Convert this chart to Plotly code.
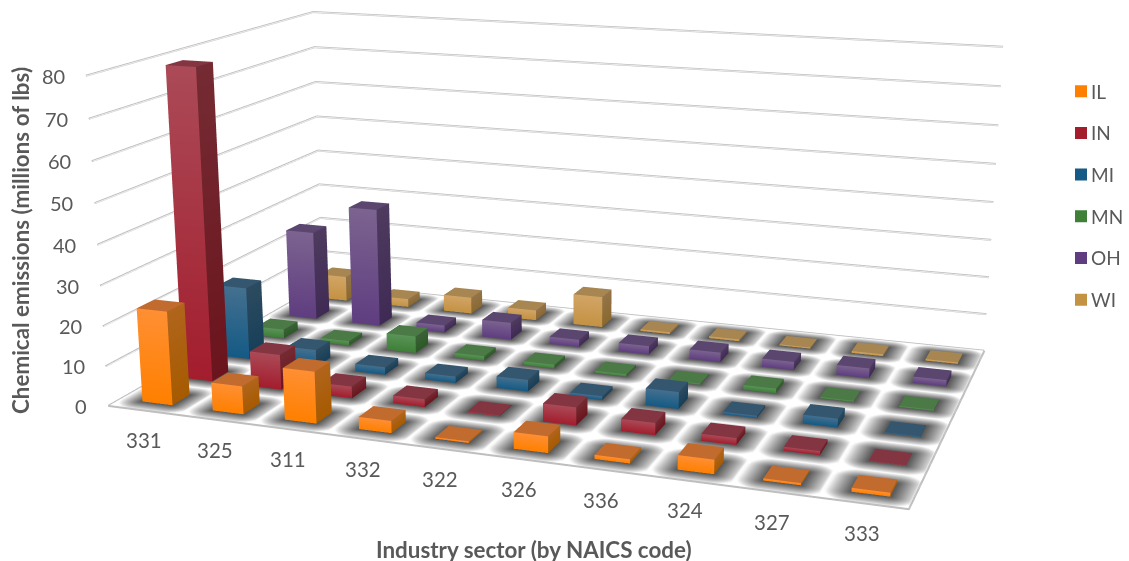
import math
import numpy as np
import plotly.graph_objects as go

# Chemical emissions by industry sector and state (millions of lbs)
sectors = ["331", "325", "311", "332", "322", "326", "336", "324", "327", "333"]
states = ["IL", "IN", "MI", "MN", "OH", "WI"]
IL = [23.5, 7, 12.8, 3, 0.4, 4, 1, 3.4, 0.5, 0.9]
IN = [79, 9, 3, 2, 0.2, 4.5, 3, 1.7, 1, 0.1]
MI = [19, 4.5, 2, 1.7, 3, 1, 4.3, 0.6, 2.2, 0.2]
MN = [2.4, 1.2, 4.5, 1.2, 1, 0.6, 0.3, 1.2, 0.3, 0.3]
OH = [24.5, 32.5, 2, 4.7, 2, 2.3, 2.6, 2.2, 2.6, 1.7]
WI = [7, 2.3, 4.6, 2.8, 8.5, 0.5, 0.5, 0.3, 0.5, 0.4]
z_ticks = [0, 10, 20, 30, 40, 50, 60, 70, 80]

# state: (front top, front bottom, side top, side bottom, top face)
palette = {
    "IL": ("#FF8F33", "#FF8000", "#B0651C", "#A65A00", "#C26B2E"),
    "IN": ("#AB4A57", "#A31D2D", "#752B33", "#6B141D", "#843542"),
    "MI": ("#44708F", "#145A85", "#2D4B60", "#153F58", "#35566F"),
    "MN": ("#5A9458", "#3F7F38", "#3C6238", "#2C5926", "#4B7A46"),
    "OH": ("#7C6390", "#5F3D80", "#4E3B5E", "#3F2A55", "#5B4670"),
    "WI": ("#D2A566", "#C49243", "#94754A", "#8A682F", "#A78651"),
}
series = {"IL": IL, "IN": IN, "MI": MI, "MN": MN, "OH": OH, "WI": WI}

BAR_HALF_X = 0.215
BAR_HALF_Y = 0.21
BAR_CENTER_X = 0.53
TEXT = "#595959"
GRID = "#BEBEBE"
nx, ny = len(sectors), len(states)


def bar_mesh(state, values):
    """One mesh per state: front, right and top face of every bar, with per-vertex colour."""
    ft, fb, st, sb, tp = palette[state]
    row = states.index(state)
    xs, ys, zs, colors, i, j, k = [], [], [], [], [], [], []
    for col, v in enumerate(values):
        x0, x1 = col + BAR_CENTER_X - BAR_HALF_X, col + BAR_CENTER_X + BAR_HALF_X
        y0, y1 = row + 0.5 - BAR_HALF_Y, row + 0.5 + BAR_HALF_Y
        quads = [
            ([(x0, y0, 0), (x1, y0, 0), (x1, y0, v), (x0, y0, v)], [fb, fb, ft, ft]),
            ([(x1, y0, 0), (x1, y1, 0), (x1, y1, v), (x1, y0, v)], [sb, sb, st, st]),
            ([(x0, y0, v), (x1, y0, v), (x1, y1, v), (x0, y1, v)], [tp, tp, tp, tp]),
        ]
        for corners, cols in quads:
            n = len(xs)
            for (a, b, c), color in zip(corners, cols):
                xs.append(a); ys.append(b); zs.append(c); colors.append(color)
            i += [n, n]; j += [n + 1, n + 2]; k += [n + 2, n + 3]
    return go.Mesh3d(
        x=xs, y=ys, z=zs, i=i, j=j, k=k, vertexcolor=colors, name=state,
        flatshading=True, showlegend=False, hoverinfo="skip",
        lighting=dict(ambient=1, diffuse=0, specular=0, fresnel=0, roughness=1),
    )


def floor_surface():
    """Floor with a soft contact shadow round every bar footprint."""
    gx = np.linspace(0, nx, 301)
    gy = np.linspace(0, ny, 181)
    X, Y = np.meshgrid(gx, gy)
    dx = np.maximum(np.abs(np.mod(X, 1) - BAR_CENTER_X) - BAR_HALF_X, 0)
    dy = np.maximum(np.abs(np.mod(Y, 1) - 0.5) - BAR_HALF_Y, 0)
    d = np.hypot(dx, dy)
    shade = np.clip(1 - d / 0.29, 0, 1) ** 0.85
    return go.Surface(
        x=gx, y=gy, z=np.zeros_like(X), surfacecolor=np.round(shade, 3),
        cmin=0, cmax=1, showscale=False, hoverinfo="skip",
        colorscale=[[0, "#FFFFFF"], [1, "#555555"]],
        lighting=dict(ambient=1, diffuse=0, specular=0, fresnel=0, roughness=1),
        contours=dict(x=dict(show=False), y=dict(show=False), z=dict(show=False)),
    )


def rule(xs, ys, zs, color, width):
    return go.Scatter3d(x=xs, y=ys, z=zs, mode="lines", line=dict(color=color, width=width),
                        showlegend=False, hoverinfo="skip")


fig = go.Figure()
fig.add_trace(floor_surface())

# Wall gridlines run along the left wall to the corner, then along the back wall
for t in z_ticks:
    fig.add_trace(rule([0, 0, nx], [0, ny, ny], [t, t, t], GRID, 4))
    fig.add_trace(rule([0.01, 0.01, nx], [0, ny - 0.01, ny - 0.01], [t, t, t], "#F4F4F4", 1.5))
fig.add_trace(rule([0, nx, nx], [0, 0, ny], [0, 0, 0], GRID, 4))

for name, vals in series.items():
    fig.add_trace(bar_mesh(name, vals))

# Legend keys
for name in states:
    fig.add_trace(go.Scatter(
        x=[None], y=[None], mode="markers", name=name, legendgroup=name,
        marker=dict(symbol="square", size=12, color=palette[name][1]),
    ))

annotations3d = [
    dict(x=0, y=0, z=t, text=str(t), showarrow=False, xanchor="right", yanchor="middle",
         xshift=-19, yshift=0, font=dict(family="Lato", size=20, color=TEXT))
    for t in z_ticks
] + [
    dict(x=c + 0.5, y=0, z=0, text=s, showarrow=False, xanchor="center", yanchor="middle",
         xshift=1 - c * 0.25, yshift=-30, font=dict(family="Lato", size=20.5, color=TEXT))
    for c, s in enumerate(sectors)
]

fig.update_layout(
    width=1129, height=561, margin=dict(l=0, r=0, t=0, b=0),
    paper_bgcolor="white", plot_bgcolor="rgba(0,0,0,0)",
    xaxis=dict(visible=False), yaxis=dict(visible=False),
    legend=dict(x=0.932, y=0.871, xanchor="left", yanchor="top", tracegroupgap=14,
                font=dict(family="Lato", size=19, color=TEXT), bgcolor="rgba(0,0,0,0)"),
    scene=dict(
        domain=dict(x=[0, 1], y=[0, 1]),
        bgcolor="white",
        xaxis=dict(visible=False, range=[0, nx]),
        yaxis=dict(visible=False, range=[0, ny]),
        zaxis=dict(visible=False, range=[0, 80]),
        aspectmode="manual",
        aspectratio=dict(x=2, y=1.1921, z=0.8317),
        camera=dict(
            eye=dict(x=1.5932, y=-4.4824, z=1.1788),
            center=dict(x=0.0156, y=-0.054, z=-0.1381),
            up=dict(x=0, y=0, z=1),
        ),
        annotations=annotations3d,
    ),
    annotations=[
        dict(text="<b>Chemical emissions (millions of lbs)</b>", xref="paper", yref="paper",
             x=21 / 1129, y=1 - 240 / 561, xanchor="center", yanchor="middle",
             textangle=-90, showarrow=False,
             font=dict(family="Lato", size=22.4, color=TEXT)),
        dict(text="<b>Industry sector (by NAICS code)</b>", xref="paper", yref="paper",
             x=534 / 1129, y=1 - 549 / 561, xanchor="center", yanchor="middle", showarrow=False,
             font=dict(family="Lato", size=22.4, color=TEXT)),
    ],
)

# A long lens keeps the verticals nearly parallel; scene cameras have no fov attribute.
# Legend keys sit closer to their labels than the default item layout allows.
fovy = 2 * math.atan(1 / 6.8408)
post = (
    "var gd=document.getElementById('{plot_id}');"
    "var s=gd._fullLayout.scene._scene;"
    f"s.glplot.fovy={fovy};"
    "s.glplot.redraw();"
    "gd.querySelectorAll('.legend .legendsymbols').forEach(function(g){"
    "g.setAttribute('transform','translate(10,0)');});"
)

fig.write_html("out.html", config=dict(displayModeBar=False), post_script=post)
